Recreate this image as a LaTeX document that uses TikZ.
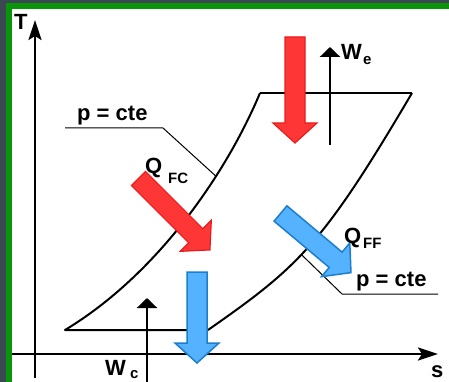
\documentclass[tikz,border=0pt]{standalone}
\usepackage{fontspec}
\setmainfont{Liberation Sans}
\usetikzlibrary{arrows.meta}

\definecolor{framedark}{HTML}{3A4852}
\definecolor{framegreen}{HTML}{0A940A}
\definecolor{heatred}{HTML}{FF3636}
\definecolor{heatredline}{HTML}{E81C1C}
\definecolor{coldblue}{HTML}{55B2FF}
\definecolor{coldblueline}{HTML}{1C7ECC}

% block arrow: style, start, angle, length
\newcommand{\blockarrow}[4]{%
  \draw[#1, shift={#2}, rotate=#3] (0,10) -- (#4-20,10) -- (#4-20,22) -- (#4,0)
    -- (#4-20,-22) -- (#4-20,-10) -- (0,-10) -- cycle;
}

\begin{document}
\begin{tikzpicture}[
    x=1pt, y=-1pt,
    axis/.style={line width=2.5pt, -{Stealth[length=20pt, width=13pt, inset=4pt]}},
    curve/.style={line width=2pt, line join=round},
    leader/.style={line width=1pt},
    work/.style={line width=2.8pt, -{Triangle[length=10pt, width=20pt]}},
    hot/.style={fill=heatred, draw=heatredline, line width=1.2pt},
    cold/.style={fill=coldblue, draw=coldblueline, line width=1.5pt},
    lbl/.style={font=\fontsize{22}{22}\selectfont\bfseries, inner sep=0pt, anchor=base west},
    sublbl/.style={font=\fontsize{15}{15}\selectfont\bfseries, inner sep=0pt, anchor=base west},
]

% ── Frame ──
\useasboundingbox (0,0) rectangle (449,382);
\fill[framedark] (0,0) rectangle (449,382);
\fill[framegreen] (6,3) rectangle (449,382);
\fill[white] (12,9) rectangle (449,382);

% ── Cycle corners ──
\coordinate (a) at (65,330);
\coordinate (b) at (260,93);
\coordinate (c) at (412,93);
\coordinate (d) at (208,330);

% ── Isobars and cycle ──
\draw[curve] (d) -- (a) .. controls (158,274) and (227,172) .. (b) coordinate[pos=0.67] (isoL);
\draw[curve] (b) -- (c);
\draw[curve] (d) .. controls (298,267) and (322,246) .. (c) coordinate[pos=0.45] (isoR);

% ── Leaders ──
\coordinate (pA1) at (65,128);
\coordinate (pA2) at (163,128);
\coordinate (pB1) at (342,294);
\coordinate (pB2) at (438,294);
\draw[leader] (pA1) -- (pA2) -- (isoL);
\draw[leader] (isoR) -- (pB1) -- (pB2);

% ── Axes ──
\coordinate (Tbot) at (35,378);
\coordinate (Ttop) at (35,20);
\coordinate (sleft) at (12,354);
\coordinate (sright) at (438,354);
\draw[axis] (Tbot) -- (Ttop);
\draw[axis] (sleft) -- (sright);

% ── Work arrows ──
\coordinate (we0) at (330,145);
\coordinate (we1) at (330,47);
\coordinate (wc0) at (147,382);
\coordinate (wc1) at (147,298);
\draw[work] (we0) -- (we1);
\draw[work] (wc0) -- (wc1);

% ── Heat arrows ──
\blockarrow{hot}{(295,37)}{-90}{106}
\blockarrow{hot}{(138.5,178.5)}{-45}{101}
\blockarrow{cold}{(197,272)}{-90}{91}
\blockarrow{cold}{(280.5,213.5)}{-40}{92}

% ── Labels ──
\node[lbl] (Tlab) at (14,30) {T};
\node[lbl] (slab) at (431,377) {s};
\node[lbl] (isoLlab) at (77,121) {p = cte};
\node[lbl] (isoRlab) at (356,286) {p = cte};
\node[lbl] (qfc) at (145,173) {Q};
\node[sublbl] (qfcsub) at (168,183) {FC};
\node[lbl] (qff) at (344,243) {Q};
\node[sublbl] (qffsub) at (363,248) {FF};
\node[lbl] (we) at (341,60) {W};
\node[sublbl] (wesub) at (363,65) {e};
\node[lbl] (wc) at (105,375) {W};
\node[sublbl] (wcsub) at (130,378) {c};

\end{tikzpicture}
\end{document}
